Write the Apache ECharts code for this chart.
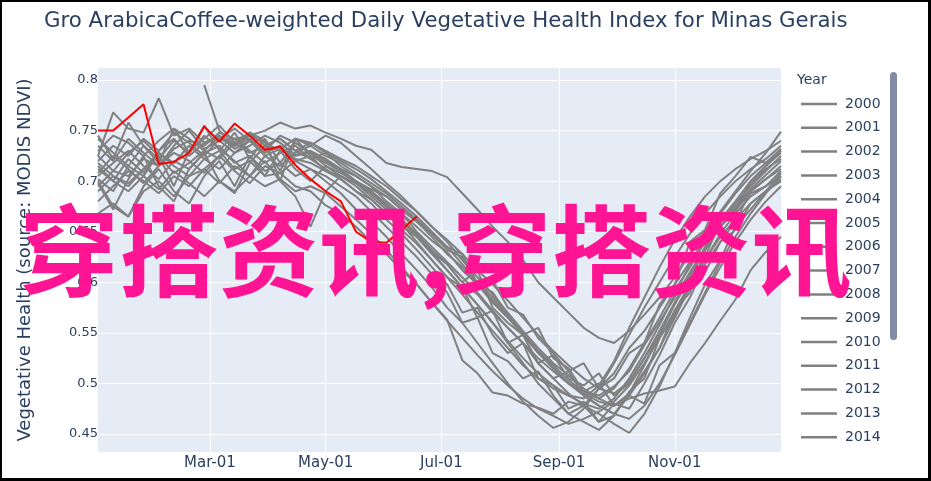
<!DOCTYPE html>
<html>
<head>
<meta charset="utf-8">
<script src="https://cdn.jsdelivr.net/npm/echarts@6/dist/echarts.min.js"></script>
<style>
html,body{margin:0;padding:0;background:#fff;}
#wrap{position:relative;width:931px;height:481px;}
#chart{position:absolute;left:0;top:0;width:931px;height:481px;}
#frame{position:absolute;left:0;top:0;width:931px;height:481px;box-sizing:border-box;border-left:2px solid #000;border-top:2px solid #000;border-right:3px solid #000;border-bottom:3px solid #000;pointer-events:none;}
</style>
</head>
<body>
<div id="wrap"><div id="chart"></div><div id="frame"></div></div>
<script>
// Day-of-year of each 8-day composite
const days = [1,9,17,25,33,41,49,57,65,73,81,89,97,105,113,121,129,137,145,153,161,169,177,185,193,201,209,217,225,233,241,249,257,265,273,281,289,297,305,313,321,329,337,345,353,361];
const xTickDays = [60,121,182,244,305];
const xTickLabels = ['Mar-01','May-01','Jul-01','Sep-01','Nov-01'];
const yTicks = [0.45,0.5,0.55,0.6,0.65,0.7,0.75,0.8];

const years = ['2000','2001','2002','2003','2004','2005','2006','2007','2008','2009','2010','2011','2012','2013','2014','2015','2016','2017','2018','2019'];
const currentYear = '2020';
const legendYears = ['2000','2001','2002','2003','2004','2005','2006','2007','2008','2009','2010','2011','2012','2013','2014'];

const v2000 = [null,null,null,null,null,null,null,0.795,0.750,0.735,0.742,0.728,0.735,0.722,0.718,0.710,0.705,0.698,0.690,0.676,0.668,0.655,0.641,0.630,0.612,0.598,0.582,0.566,0.549,0.532,0.518,0.503,0.492,0.488,0.497,0.512,0.538,0.561,0.585,0.610,0.634,0.655,0.672,0.690,0.702,0.712];
const v2001 = [0.702,0.690,0.715,0.705,0.728,0.718,0.735,0.722,0.730,0.712,0.720,0.705,0.708,0.695,0.690,0.676,0.668,0.655,0.640,0.628,0.612,0.598,0.580,0.563,0.523,0.510,0.491,0.488,0.480,0.476,0.470,0.482,0.478,0.495,0.510,0.535,0.552,0.575,0.598,0.620,0.640,0.660,0.672,0.688,0.695,0.705];
const v2002 = [0.725,0.768,0.752,0.748,0.782,0.745,0.752,0.738,0.742,0.735,0.745,0.738,0.730,0.725,0.728,0.715,0.708,0.700,0.692,0.685,0.672,0.660,0.645,0.628,0.615,0.598,0.580,0.565,0.548,0.530,0.515,0.500,0.492,0.485,0.495,0.515,0.540,0.565,0.592,0.615,0.640,0.662,0.680,0.700,0.715,0.730];
const v2003 = [0.695,0.710,0.705,0.722,0.715,0.732,0.740,0.735,0.748,0.742,0.745,0.750,0.758,0.752,0.755,0.748,0.742,0.735,0.731,0.718,0.714,0.712,0.710,0.704,0.688,0.672,0.655,0.640,0.622,0.600,0.585,0.570,0.555,0.545,0.540,0.552,0.568,0.585,0.605,0.628,0.650,0.670,0.690,0.710,0.728,0.749];
const v2004 = [0.668,0.678,0.665,0.690,0.700,0.685,0.705,0.712,0.698,0.715,0.705,0.720,0.700,0.685,0.655,0.690,0.705,0.698,0.688,0.675,0.660,0.648,0.632,0.618,0.600,0.612,0.575,0.560,0.548,0.520,0.528,0.505,0.498,0.510,0.488,0.500,0.525,0.548,0.565,0.598,0.610,0.640,0.652,0.678,0.690,0.702];
const v2005 = [0.712,0.700,0.722,0.708,0.730,0.742,0.725,0.738,0.745,0.732,0.740,0.728,0.735,0.720,0.725,0.710,0.702,0.690,0.682,0.668,0.655,0.645,0.630,0.618,0.600,0.588,0.570,0.555,0.540,0.520,0.505,0.490,0.478,0.470,0.460,0.451,0.470,0.497,0.530,0.560,0.590,0.620,0.645,0.668,0.688,0.705];
const v2006 = [0.735,0.720,0.742,0.728,0.715,0.735,0.750,0.732,0.740,0.728,0.735,0.745,0.738,0.726,0.730,0.722,0.712,0.700,0.690,0.678,0.662,0.648,0.630,0.612,0.595,0.578,0.560,0.540,0.520,0.500,0.485,0.470,0.462,0.454,0.468,0.490,0.518,0.548,0.578,0.605,0.632,0.655,0.675,0.692,0.706,0.720];
const v2007 = [0.690,0.705,0.698,0.712,0.725,0.708,0.718,0.730,0.722,0.738,0.728,0.735,0.742,0.730,0.722,0.728,0.715,0.705,0.695,0.680,0.668,0.650,0.635,0.620,0.605,0.590,0.572,0.555,0.540,0.525,0.512,0.500,0.490,0.482,0.478,0.485,0.490,0.493,0.497,0.520,0.540,0.562,0.583,0.612,0.630,0.645];
const v2008 = [0.705,0.718,0.730,0.715,0.702,0.720,0.712,0.728,0.735,0.718,0.725,0.710,0.718,0.705,0.712,0.700,0.688,0.672,0.660,0.645,0.628,0.612,0.595,0.575,0.560,0.540,0.520,0.500,0.482,0.468,0.456,0.462,0.475,0.495,0.520,0.548,0.575,0.600,0.625,0.648,0.668,0.685,0.700,0.712,0.722,0.735];
const v2009 = [0.720,0.735,0.725,0.742,0.730,0.748,0.738,0.725,0.742,0.752,0.740,0.730,0.745,0.738,0.728,0.720,0.712,0.705,0.695,0.685,0.672,0.660,0.648,0.635,0.628,0.598,0.602,0.575,0.568,0.545,0.530,0.512,0.520,0.495,0.505,0.530,0.540,0.578,0.598,0.640,0.652,0.688,0.705,0.724,0.718,0.730];
const v2010 = [0.698,0.672,0.702,0.725,0.695,0.680,0.712,0.728,0.700,0.688,0.718,0.735,0.710,0.742,0.725,0.718,0.710,0.698,0.685,0.672,0.658,0.640,0.622,0.605,0.588,0.570,0.552,0.535,0.518,0.505,0.495,0.488,0.485,0.498,0.522,0.555,0.585,0.615,0.642,0.665,0.685,0.700,0.712,0.722,0.730,0.740];
const v2011 = [0.742,0.728,0.715,0.735,0.722,0.740,0.728,0.745,0.732,0.720,0.705,0.725,0.732,0.742,0.735,0.745,0.738,0.725,0.712,0.698,0.685,0.670,0.655,0.640,0.622,0.605,0.588,0.570,0.552,0.535,0.520,0.508,0.495,0.485,0.478,0.488,0.510,0.535,0.565,0.595,0.622,0.648,0.668,0.685,0.695,0.710];
const v2012 = [0.680,0.695,0.710,0.700,0.688,0.705,0.695,0.712,0.725,0.710,0.698,0.715,0.708,0.720,0.712,0.705,0.695,0.685,0.670,0.655,0.640,0.625,0.608,0.590,0.560,0.565,0.530,0.522,0.505,0.512,0.488,0.470,0.478,0.462,0.480,0.475,0.500,0.528,0.560,0.585,0.618,0.640,0.660,0.690,0.702,0.715];
const v2013 = [0.725,0.710,0.728,0.740,0.725,0.695,0.730,0.742,0.755,0.738,0.748,0.735,0.742,0.730,0.738,0.728,0.720,0.712,0.702,0.690,0.678,0.665,0.650,0.635,0.618,0.600,0.585,0.568,0.550,0.532,0.515,0.500,0.488,0.478,0.470,0.465,0.478,0.500,0.528,0.558,0.588,0.615,0.640,0.662,0.680,0.695];
const v2014 = [0.715,0.700,0.690,0.705,0.692,0.710,0.698,0.685,0.700,0.690,0.705,0.695,0.702,0.690,0.695,0.688,0.675,0.662,0.648,0.632,0.615,0.598,0.580,0.562,0.545,0.528,0.512,0.498,0.485,0.475,0.468,0.460,0.465,0.472,0.482,0.498,0.520,0.545,0.572,0.598,0.622,0.645,0.662,0.678,0.690,0.700];
const v2015 = [0.700,0.675,0.665,0.695,0.712,0.690,0.678,0.705,0.720,0.695,0.725,0.705,0.730,0.712,0.700,0.715,0.705,0.695,0.682,0.668,0.652,0.638,0.622,0.605,0.595,0.565,0.572,0.540,0.548,0.520,0.505,0.512,0.488,0.478,0.470,0.488,0.480,0.518,0.530,0.565,0.598,0.622,0.655,0.672,0.690,0.708];
const v2016 = [0.730,0.745,0.738,0.725,0.740,0.752,0.742,0.730,0.745,0.735,0.748,0.740,0.700,0.742,0.738,0.730,0.722,0.715,0.705,0.695,0.682,0.670,0.655,0.642,0.628,0.612,0.598,0.582,0.565,0.548,0.532,0.518,0.505,0.495,0.490,0.502,0.525,0.552,0.580,0.608,0.635,0.658,0.678,0.695,0.710,0.725];
const v2017 = [0.708,0.725,0.712,0.698,0.715,0.728,0.720,0.708,0.725,0.742,0.730,0.718,0.728,0.735,0.722,0.712,0.702,0.690,0.678,0.662,0.648,0.632,0.615,0.598,0.570,0.575,0.548,0.530,0.540,0.505,0.498,0.475,0.482,0.462,0.468,0.492,0.505,0.545,0.568,0.600,0.625,0.660,0.672,0.700,0.715,0.728];
const v2018 = [0.718,0.705,0.695,0.712,0.728,0.715,0.705,0.722,0.712,0.728,0.740,0.725,0.715,0.728,0.735,0.725,0.718,0.708,0.698,0.688,0.675,0.662,0.648,0.632,0.625,0.598,0.590,0.568,0.548,0.555,0.525,0.515,0.492,0.500,0.478,0.490,0.512,0.535,0.572,0.590,0.632,0.655,0.670,0.698,0.712,0.722];
const v2019 = [0.745,0.722,0.758,0.735,0.718,0.752,0.728,0.755,0.730,0.748,0.722,0.742,0.718,0.738,0.728,0.720,0.710,0.700,0.688,0.675,0.660,0.645,0.628,0.612,0.595,0.578,0.560,0.542,0.525,0.510,0.498,0.488,0.480,0.475,0.485,0.505,0.530,0.558,0.588,0.618,0.645,0.668,0.688,0.705,0.718,0.732];
const vCurrent = [0.750,0.750,0.763,0.776,0.717,0.719,0.728,0.754,0.739,0.757,0.745,0.731,0.734,0.716,0.702,0.690,0.680,0.650,0.640,0.639,0.652,0.665];

const greyValues = [v2000,v2001,v2002,v2003,v2004,v2005,v2006,v2007,v2008,v2009,v2010,v2011,v2012,v2013,v2014,v2015,v2016,v2017,v2018,v2019];

const FONT = 'DejaVu Sans, Verdana, sans-serif';
const TXT = '#2a3f5f';

const series = greyValues.map((vals, i) => ({
  name: years[i], type: 'line', symbol: 'none', showSymbol: false,
  lineStyle: { color: '#808080', width: 2 }, itemStyle: { color: '#808080' },
  data: vals.map((v, j) => [days[j], v]), connectNulls: false, z: 2, silent: true
}));
series.push({
  name: currentYear, type: 'line', symbol: 'none', showSymbol: false,
  lineStyle: { color: '#ff0000', width: 2 }, itemStyle: { color: '#ff0000' },
  data: vCurrent.map((v, j) => [days[j], v]), z: 3, silent: true
});

const chart = echarts.init(document.getElementById('chart'), null, { renderer: 'canvas' });
chart.setOption({
  animation: false,
  backgroundColor: '#fff',
  title: {
    text: 'Gro ArabicaCoffee-weighted Daily Vegetative Health Index for Minas Gerais',
    left: 39, top: 6,
    textStyle: { fontFamily: FONT, fontSize: 21.3, fontWeight: 'normal', color: TXT }
  },
  grid: { left: 98, right: 150, top: 68, bottom: 29, show: true, backgroundColor: '#E5ECF6', borderWidth: 0, containLabel: false },
  xAxis: {
    type: 'value', min: 1, max: 361,
    axisLine: { show: false },
    axisTick: { show: false, customValues: xTickDays },
    axisLabel: {
      customValues: xTickDays, margin: 4,
      formatter: v => xTickLabels[xTickDays.indexOf(v)] || '',
      fontFamily: FONT, fontSize: 15, color: TXT
    },
    splitLine: { show: true, lineStyle: { color: '#fff', width: 1 } }
  },
  yAxis: {
    type: 'value', min: 0.4322, max: 0.8119,
    name: 'Vegetative Health (source: MODIS NDVI)', nameLocation: 'middle', nameGap: 64,
    nameTextStyle: { fontFamily: FONT, fontSize: 18, color: TXT },
    axisLine: { show: false },
    axisTick: { show: false, customValues: yTicks },
    axisLabel: { customValues: yTicks, margin: 0, formatter: v => String(v), fontFamily: FONT, fontSize: 13, color: TXT },
    splitLine: { show: true, lineStyle: { color: '#fff', width: 1 } }
  },
  legend: {
    orient: 'vertical', left: 796, top: 92,
    data: legendYears,
    icon: 'rect',
    itemWidth: 36, itemHeight: 2.5, itemGap: 9.8,
    textStyle: { fontFamily: FONT, fontSize: 14, lineHeight: 14, color: TXT, padding: [0, 0, 0, 3] },
    selectedMode: false
  },
  graphic: [
    { type: 'text', left: 797, top: 73, style: { text: 'Year', fontFamily: FONT, fontSize: 14, fill: TXT } },
    { type: 'rect', shape: { x: 890, y: 72, width: 7, height: 268, r: 3.5 }, style: { fill: '#808BA4' } },
    { type: 'text', z: 100, left: 19, top: 201,
      style: { text: '穿搭资讯,穿搭资讯', fontFamily: 'Noto Sans CJK SC', fontWeight: 'bold', fontSize: 100, fill: '#FF1493' } }
  ],
  series: series
});
</script>
</body>
</html>
